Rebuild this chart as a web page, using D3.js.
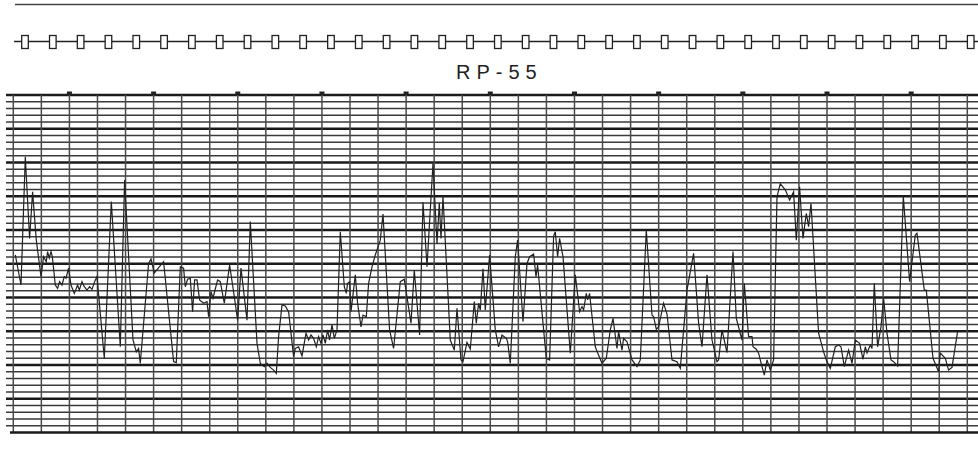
<!DOCTYPE html>
<html>
<head>
<meta charset="utf-8">
<script src="https://d3js.org/d3.v7.min.js"></script>
<style>
  body { margin: 0; background: #fff; }
  svg { display: block; }
</style>
</head>
<body>
<svg id="drawing_region"></svg>
<script>
// recorder trace: sample time (chart units) and pen level (% of full scale)
const time = [2, 7.7, 12, 16.3, 19.3, 23, 27.7, 30.3, 33, 34.3,
    36, 37.7, 39, 42, 44.3, 46.3, 48.7, 51, 52.7, 55.3,
    57.7, 61, 64.3, 66, 68.7, 71, 73.7, 76.3, 78.7, 81.3,
    83.7, 91, 98, 107, 111.3, 119.7, 123, 125.3, 127, 135.3,
    137.7, 141, 150.3, 160.3, 163, 167, 170.3, 172, 174.3, 177,
    179.3, 181.3, 183.7, 186.3, 190.3, 193.7, 195.3, 197.7, 199.7, 201.3,
    204.3, 207, 211, 216.3, 220.3, 224.3, 227.7, 233.7, 237, 243.7,
    247, 248.7, 251, 253.7, 257, 260.3, 263, 265.3, 268.7, 272,
    275.3, 280.3, 282, 285.3, 288.7, 292.7, 295.3, 297.7, 300.3, 303,
    305.3, 307.7, 309.7, 312, 314.3, 316.3, 318.7, 321, 323.7, 327,
    331, 333, 334.3, 336.3, 337.7, 342, 344.3, 347.7, 349.7, 353,
    355.3, 358.7, 362, 367, 369.7, 376.3, 380.3, 387, 391, 397.7,
    401, 406.3, 409.7, 413.7, 419.7, 423.7, 426, 427.7, 429.7, 437,
    441, 443.7, 447.7, 449.7, 453.7, 457, 461, 463, 465.3, 467,
    469.7, 472, 476.3, 482, 485.3, 488.7, 493, 494.3, 497, 502,
    504.3, 509.7, 513.7, 516.3, 520.3, 522.7, 524.3, 533, 536.3, 540.3,
    542, 544.3, 546.3, 549.7, 557, 562, 566.3, 568.7, 570.3, 573,
    574.3, 576.3, 582, 584.3, 588.7, 593, 597, 599.7, 603.7, 605.3,
    608.7, 610.3, 613.7, 618.7, 623.7, 627, 633, 638.7, 640.3, 643,
    645.3, 650.3, 653.7, 658.7, 663.7, 667, 673.7, 680.3, 685.3, 688.7,
    693.7, 698.7, 703.7, 705.3, 708.7, 713.7, 719.7, 723, 728.7, 731,
    735.3, 738.7, 739.7, 743, 745.3, 748.7, 751, 753.7, 757, 760.3,
    763.7, 767, 772, 776.3, 780.3, 783, 786.3, 789.7, 793, 795.3,
    797.7, 805.3, 810.3, 813, 817, 822, 825.3, 827.7, 831, 835.3,
    838.7, 842, 846.3, 849.7, 852, 853.7, 857, 858.7, 861, 864.3,
    867.7, 870.3, 873.7, 877.7, 880.3, 884.3, 890, 896.3, 902, 903.7,
    911, 913, 919.7, 925.3, 927, 932, 935.3, 938.7, 944.3];

const level = [52.6, 43.7, 81.7, 57.5, 71.3, 57, 46.2, 52.1, 50.6, 53.6,
    51.7, 53.6, 52.1, 43.7, 42.7, 44.7, 43.7, 46.2, 45.7, 48.7,
    43.7, 41.2, 43.7, 42.2, 44.7, 43.2, 42.2, 43.2, 42.4, 44.7,
    46.2, 22, 68.4, 25.4, 74.8, 27.4, 23.9, 24.9, 20.5, 50.1,
    51.4, 47.3, 50.6, 21, 20.7, 49.1, 48.7, 43.2, 45.4, 45.7,
    35.8, 45.2, 45.2, 39.3, 38.3, 38.8, 34.3, 41.7, 39.8, 41.7,
    45.2, 44.7, 38.3, 49.6, 41.7, 33.3, 48.7, 33.3, 62.5, 26.4,
    20.5, 20, 19.5, 20.5, 19.3, 18.5, 17.5, 28.4, 37.8, 37.5,
    35.8, 22.5, 24.9, 25.4, 22.7, 29.4, 27.4, 28.9, 27.9, 25.4,
    28.4, 26.4, 28.9, 26.4, 30.4, 27.4, 31.9, 27.9, 30.4, 59.5,
    43.2, 41.2, 44.2, 44.7, 35.8, 46.7, 38.3, 31.3, 34.8, 34.3,
    44.2, 49.1, 52.6, 57, 64.7, 30.4, 24.9, 44.7, 45.4, 32.4,
    48.1, 28.9, 68.3, 49.1, 79.8, 55.9, 68.1, 57.5, 69.9, 27.4,
    24.4, 36.8, 21.5, 21, 26.7, 24.7, 38.8, 32.4, 38.3, 36.3,
    48.5, 36.3, 52.6, 30.4, 25.4, 28.9, 27.9, 26.9, 20.5, 52.1,
    57, 32.8, 50.1, 52.1, 52.9, 46.2, 49.6, 22, 21.5, 58.2,
    59.5, 52.1, 57.5, 52.1, 23.5, 46.7, 35.8, 37.3, 36.3, 41.2,
    39.3, 41.2, 25.4, 23.6, 20.5, 22, 30.4, 33.8, 24.9, 29.9,
    24.4, 27.9, 26.9, 21.5, 19.5, 21.5, 60, 34.8, 34.3, 30.6,
    31.3, 38.3, 35.1, 21.5, 21, 19, 42.2, 53.1, 32.4, 25.4,
    46.7, 27.4, 21, 21.5, 30.4, 23.7, 53.6, 33.8, 27.4, 44.2,
    28.4, 28.4, 25.4, 24.7, 23.5, 19.5, 17, 21.5, 18.5, 21.5,
    69.9, 73.7, 71.9, 68.9, 71.3, 57, 72.8, 57.5, 64.9, 61,
    67.9, 29.4, 23.9, 21.5, 19, 25.4, 25.9, 25.4, 19.5, 24.4,
    20.5, 27.4, 26.4, 21.7, 25.4, 23.6, 25.9, 24.9, 44.2, 25.4,
    31.3, 39.8, 29.4, 21.5, 21, 19.7, 70.1, 44.7, 58.5, 59,
    42.2, 42.2, 22, 18, 23.5, 22, 18.5, 19.3, 29.9];

const title = "RP-55";
const columns = 34;      // vertical chart divisions
const rows = 50;         // minor horizontal divisions
const major_every = 5;   // heavy line every 5 rows
const timer_marks = 35;  // event marker boxes on the top pen

var config = {
    parent: '#drawing_region',
    width: 978,
    height: 458,
    grid: {left: 13.3, right: 967.3, top: 95, bottom: 432.5},
    title: title
};

class StripChart {

    constructor( config, time, level ) {
        this.config = config;
        this.data = time.map( (t, i) => ({time: t, level: level[i]}) );
        this.init();
    }

    init() {
        let self = this;
        let g = self.config.grid;

        self.svg = d3.select( self.config.parent )
            .attr('width', self.config.width)
            .attr('height', self.config.height);

        self.xscale = d3.scaleLinear()
            .domain( [0, 954] )
            .range( [g.left, g.right] );

        self.yscale = d3.scaleLinear()
            .domain( [0, 100] )
            .range( [g.bottom, g.top] );

        // column index -> x, for grid and marks
        self.colscale = d3.scaleLinear()
            .domain( [0, columns] )
            .range( [g.left, g.right] );

        self.markscale = d3.scaleLinear()
            .domain( [0, timer_marks - 1] )
            .range( [25, 970.7] );
    }

    render() {
        let self = this;
        let g = self.config.grid;
        let W = self.config.width;

        // top edge line
        self.svg.append('line')
            .attr('x1', 15).attr('x2', W)
            .attr('y1', 4.5).attr('y2', 4.5)
            .attr('stroke', '#444')
            .attr('stroke-width', 1.6);

        // event marker pen
        self.svg.append('line')
            .attr('x1', 14).attr('x2', W)
            .attr('y1', 41.5).attr('y2', 41.5)
            .attr('stroke', '#222')
            .attr('stroke-width', 1.3);

        self.svg.selectAll('rect.mark')
            .data( d3.range(timer_marks) )
            .enter()
            .append('rect')
            .attr('class', 'mark')
            .attr('x', d => self.markscale(d) - 3.3)
            .attr('y', 35.5)
            .attr('width', 6.6)
            .attr('height', 13)
            .attr('fill', '#fff')
            .attr('stroke', '#222')
            .attr('stroke-width', 1.3);

        self.svg.append('text')
            .attr('x', 456)
            .attr('y', 78.5)
            .style('font-family', '"Liberation Sans", Arial, sans-serif')
            .style('font-size', '20px')
            .style('letter-spacing', '6px')
            .attr('fill', '#222')
            .text(self.config.title);

        // horizontal chart lines
        const rowscale = d3.scaleLinear().domain([0, rows]).range([g.bottom, g.top]);
        self.svg.selectAll('line.hrow')
            .data( d3.range(1, rows + 1) )
            .enter()
            .append('line')
            .attr('class', 'hrow')
            .attr('x1', 6).attr('x2', W)
            .attr('y1', d => rowscale(d)).attr('y2', d => rowscale(d))
            .attr('stroke', d => d % major_every == 0 ? '#1a1a1a' : '#3a3a3a')
            .attr('stroke-width', d => d % major_every == 0 ? 2.4 : 1.3);

        // vertical chart lines
        self.svg.selectAll('line.vcol')
            .data( d3.range(columns + 1) )
            .enter()
            .append('line')
            .attr('class', 'vcol')
            .attr('x1', d => self.colscale(d)).attr('x2', d => self.colscale(d))
            .attr('y1', g.top).attr('y2', g.bottom)
            .attr('stroke', '#4a4a4a')
            .attr('stroke-width', 1.5);

        // bottom edge of the chart paper
        self.svg.append('line')
            .attr('x1', 10).attr('x2', W)
            .attr('y1', g.bottom).attr('y2', g.bottom)
            .attr('stroke', '#1a1a1a')
            .attr('stroke-width', 2.6);

        // little timing ticks on the top line, every third column
        self.svg.selectAll('rect.tick')
            .data( d3.range(2, columns, 3) )
            .enter()
            .append('rect')
            .attr('class', 'tick')
            .attr('x', d => self.colscale(d) - 2.5)
            .attr('y', g.top - 3.5)
            .attr('width', 5)
            .attr('height', 3.5)
            .attr('fill', '#222');

        // the trace
        const line = d3.line()
            .x( d => self.xscale(d.time) )
            .y( d => self.yscale(d.level) );

        self.svg.append('path')
            .datum(self.data)
            .attr('d', line)
            .attr('fill', 'none')
            .attr('stroke', '#222')
            .attr('stroke-width', 1.2)
            .attr('stroke-linejoin', 'miter');
    }
}

const strip_chart = new StripChart( config, time, level );
strip_chart.render();
</script>
</body>
</html>
